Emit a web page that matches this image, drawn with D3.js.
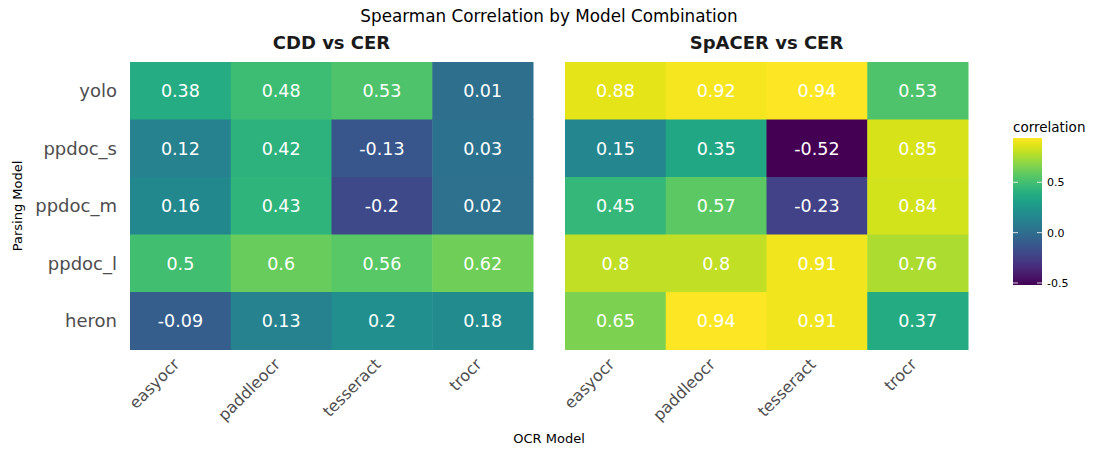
<!DOCTYPE html>
<html><head><meta charset="utf-8">
<script src="https://cdn.jsdelivr.net/npm/d3@7"></script>
<style>body{margin:0;background:#fff;font-family:"DejaVu Sans",sans-serif;}</style>
</head><body>
<svg id="chart" width="1100" height="458"></svg>
<script>
const ocrModels = ["easyocr","paddleocr","tesseract","trocr"];
const parsingModels = ["yolo","ppdoc_s","ppdoc_m","ppdoc_l","heron"];
const panelTitles = ["CDD vs CER","SpACER vs CER"];
const cddVsCer = [
  [0.38,0.48,0.53,0.01],
  [0.12,0.42,-0.13,0.03],
  [0.16,0.43,-0.2,0.02],
  [0.5,0.6,0.56,0.62],
  [-0.09,0.13,0.2,0.18]
];
const spacerVsCer = [
  [0.88,0.92,0.94,0.53],
  [0.15,0.35,-0.52,0.85],
  [0.45,0.57,-0.23,0.84],
  [0.8,0.8,0.91,0.76],
  [0.65,0.94,0.91,0.37]
];
const legendTicks = [-0.5,0.0,0.5];
const colorDomain = [-0.52,0.94];

(function(){
const svg = d3.select("#chart");
const color = d3.scaleSequential(d3.interpolateViridis).domain(colorDomain);
const plotTop = 62, plotBottom = 349.5;
const panels = [{x0:130,x1:533,data:cddVsCer},{x0:565,x1:968,data:spacerVsCer}];
const y = d3.scaleBand().domain(parsingModels).range([plotTop,plotBottom]).padding(0);

svg.append("text").attr("x",549).attr("y",22).attr("text-anchor","middle")
  .attr("font-size",16.8).attr("fill","#000").text("Spearman Correlation by Model Combination");

panels.forEach((p,pi)=>{
  const x = d3.scaleBand().domain(ocrModels).range([p.x0,p.x1]).padding(0);
  const g = svg.append("g");
  const cells = [];
  parsingModels.forEach((pm,ri)=>ocrModels.forEach((om,ci)=>cells.push({pm,om,v:p.data[ri][ci]})));
  g.selectAll("rect").data(cells).join("rect")
    .attr("x",d=>x(d.om)).attr("y",d=>y(d.pm))
    .attr("width",x.bandwidth()+0.5).attr("height",y.bandwidth()+0.5)
    .attr("fill",d=>color(d.v));
  g.selectAll("text.val").data(cells).join("text").attr("class","val")
    .attr("x",d=>x(d.om)+x.bandwidth()/2).attr("y",d=>y(d.pm)+y.bandwidth()/2)
    .attr("dy","0.36em").attr("text-anchor","middle").attr("font-size",17.5).attr("fill","#fff")
    .text(d=>String(d.v));
  svg.append("text").attr("x",(p.x0+p.x1)/2).attr("y",49).attr("text-anchor","middle")
    .attr("font-size",18).attr("font-weight","bold").attr("fill","#1a1a1a").text(panelTitles[pi]);
  ocrModels.forEach(om=>{
    const cx = x(om)+x.bandwidth()/2;
    svg.append("text").attr("transform",`translate(${cx-8},${plotBottom+8}) rotate(-45)`)
      .attr("text-anchor","end").attr("dy","0.7em").attr("font-size",16).attr("fill","#4d4d4d").text(om);
  });
});

parsingModels.forEach(pm=>{
  svg.append("text").attr("x",117).attr("y",y(pm)+y.bandwidth()/2).attr("dy","0.36em")
    .attr("text-anchor","end").attr("font-size",18).attr("fill","#4d4d4d").text(pm);
});
svg.append("text").attr("transform",`translate(22,206) rotate(-90)`).attr("text-anchor","middle")
  .attr("font-size",13).attr("fill","#000").text("Parsing Model");
svg.append("text").attr("x",549).attr("y",443).attr("text-anchor","middle")
  .attr("font-size",13).attr("fill","#000").text("OCR Model");

const lx = 1013, lw = 29, ly0 = 138, ly1 = 285;
const ly = d3.scaleLinear().domain(colorDomain).range([ly1,ly0]);
const defs = svg.append("defs");
const grad = defs.append("linearGradient").attr("id","lg").attr("x1",0).attr("y1",1).attr("x2",0).attr("y2",0);
d3.range(0,1.0001,0.05).forEach(t=>grad.append("stop").attr("offset",t)
  .attr("stop-color",color(colorDomain[0]+t*(colorDomain[1]-colorDomain[0]))));
svg.append("rect").attr("x",lx).attr("y",ly0).attr("width",lw).attr("height",ly1-ly0).attr("fill","url(#lg)");
legendTicks.forEach(t=>{
  const yy = ly(t);
  svg.append("line").attr("x1",lx).attr("x2",lx+5).attr("y1",yy).attr("y2",yy).attr("stroke","#fff").attr("stroke-opacity",0.8);
  svg.append("line").attr("x1",lx+lw-5).attr("x2",lx+lw).attr("y1",yy).attr("y2",yy).attr("stroke","#fff").attr("stroke-opacity",0.8);
  svg.append("text").attr("x",lx+lw+5).attr("y",yy).attr("dy","0.36em").attr("font-size",11)
    .attr("fill","#000").text(t.toFixed(1));
});
svg.append("text").attr("x",lx).attr("y",132).attr("font-size",13.5).attr("fill","#000").text("correlation");
})();
</script>
</body></html>
